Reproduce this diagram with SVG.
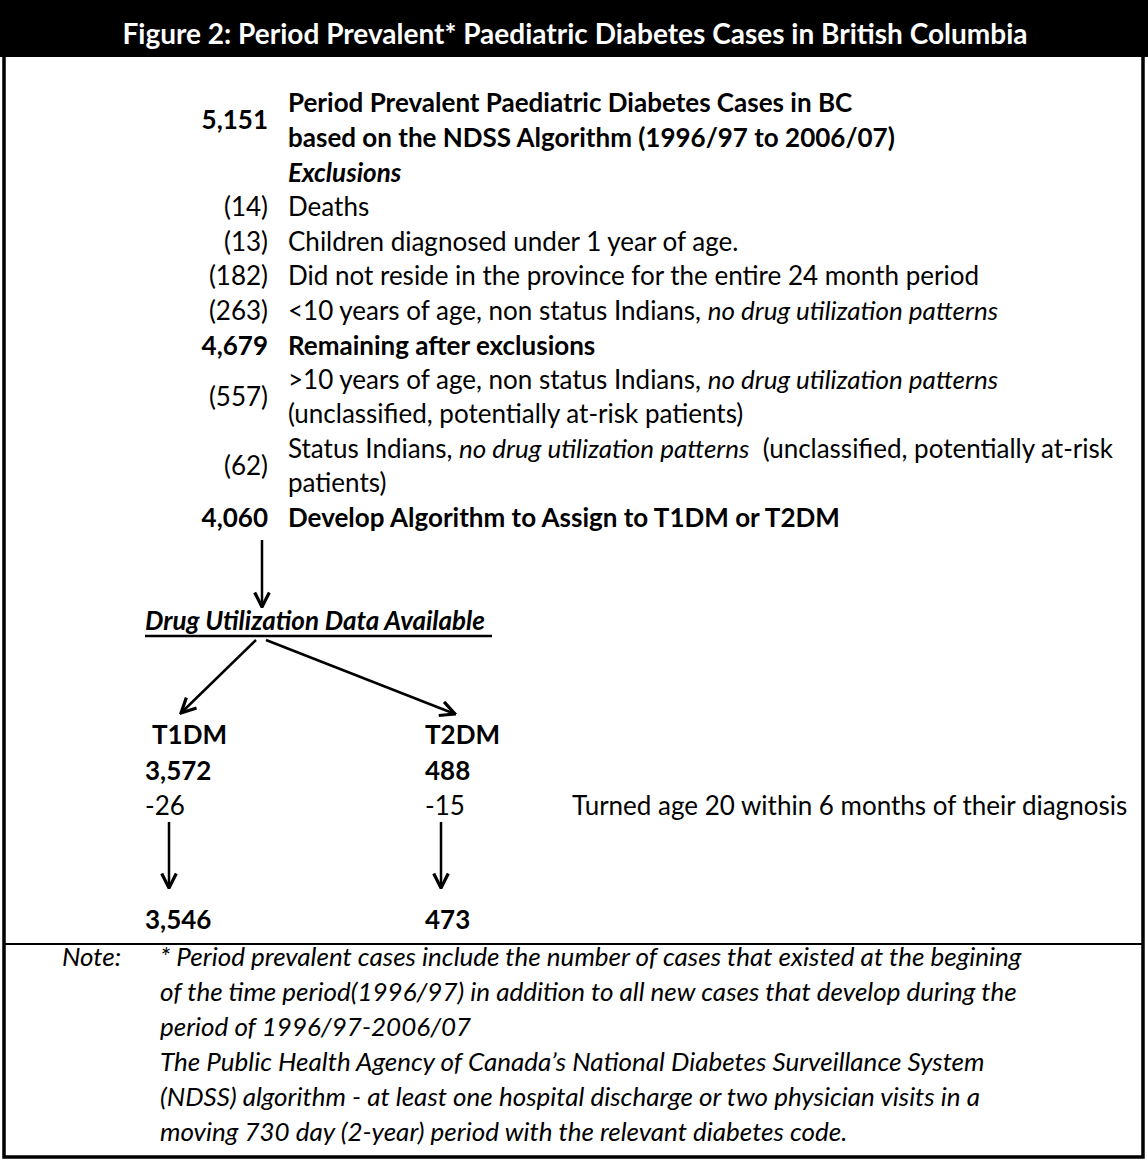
<svg xmlns="http://www.w3.org/2000/svg" width="1148" height="1160" viewBox="0 0 1148 1160">
<style>
text{font-family:Lato,"Liberation Sans",sans-serif;font-size:26px;fill:#000}
.b{font-weight:bold}
.i{font-style:italic}
.r{text-anchor:end}
.ttl{fill:#fff;font-weight:bold;font-size:28px;text-anchor:middle}
.ln{stroke:#000;stroke-width:2.5;fill:none}
</style>
<defs>
<marker id="ah" viewBox="0 0 12 12" refX="11" refY="6" markerWidth="7" markerHeight="7" orient="auto" markerUnits="strokeWidth">
<path d="M1,1 L11,6 L1,11" fill="none" stroke="#000" stroke-width="2.2"/>
</marker>
</defs>
<rect x="0" y="0" width="1148" height="1160" fill="#fff"/>
<rect x="4" y="2" width="1139" height="1155" fill="none" stroke="#000" stroke-width="3.5"/>
<g id="title">
<rect x="0" y="0" width="1148" height="57" fill="#000"/>
<text class="ttl" x="575" y="44" textLength="905" lengthAdjust="spacingAndGlyphs">Figure 2: Period Prevalent* Paediatric Diabetes Cases in British Columbia</text>
</g>
<g id="n5151">
<text class="b r" x="268" y="129">5,151</text>
<text class="b" x="288" y="112">Period Prevalent Paediatric Diabetes Cases in BC</text>
<text class="b" x="288" y="147">based on the NDSS Algorithm (1996/97 to 2006/07)</text>
<text class="b i" x="288" y="182">Exclusions</text>
</g>
<g id="ex14"><text class="r" x="268" y="216">(14)</text><text x="288" y="216">Deaths</text></g>
<g id="ex13"><text class="r" x="268" y="251">(13)</text><text x="288" y="251">Children diagnosed under 1 year of age.</text></g>
<g id="ex182"><text class="r" x="268" y="285">(182)</text><text x="288" y="285">Did not reside in the province for the entire 24 month period</text></g>
<g id="ex263"><text class="r" x="268" y="320">(263)</text><text x="288" y="320">&lt;10 years of age, non status Indians, <tspan class="i">no drug utilization patterns</tspan></text></g>
<g id="n4679"><text class="b r" x="268" y="355">4,679</text><text class="b" x="288" y="355">Remaining after exclusions</text></g>
<g id="ex557"><text class="r" x="268" y="406">(557)</text><text x="288" y="389">&gt;10 years of age, non status Indians, <tspan class="i">no drug utilization patterns</tspan></text><text x="288" y="423">(unclassified, potentially at-risk patients)</text></g>
<g id="ex62"><text class="r" x="268" y="475">(62)</text><text x="288" y="458">Status Indians, <tspan class="i">no drug utilization patterns</tspan>&#160; (unclassified, potentially at-risk</text><text x="288" y="492">patients)</text></g>
<g id="n4060"><text class="b r" x="268" y="527">4,060</text><text class="b" x="288" y="527">Develop Algorithm to Assign to T1DM or T2DM</text></g>
<g id="drug">
<text class="b i" x="145" y="630">Drug Utilization Data Available</text>
<line x1="145" y1="636" x2="492" y2="636" stroke="#000" stroke-width="2.5"/>
</g>
<g id="t1dm">
<text class="b" x="152" y="744">T1DM</text>
<text class="b" x="145" y="780">3,572</text>
<text x="145" y="815">-26</text>
<text class="b" x="145" y="929">3,546</text>
</g>
<g id="t2dm">
<text class="b" x="425" y="744">T2DM</text>
<text class="b" x="425" y="780">488</text>
<text x="425" y="815">-15</text>
<text class="b" x="425" y="929">473</text>
</g>
<g id="turned"><text x="572" y="815">Turned age 20 within 6 months of their diagnosis</text></g>
<g id="connectors">
<line class="ln" x1="262" y1="540" x2="262" y2="607" marker-end="url(#ah)"/>
<line class="ln" x1="256" y1="640" x2="181" y2="713" marker-end="url(#ah)"/>
<line class="ln" x1="266" y1="640" x2="455" y2="714" marker-end="url(#ah)"/>
<line class="ln" x1="169" y1="822" x2="169" y2="888" marker-end="url(#ah)"/>
<line class="ln" x1="441" y1="822" x2="441" y2="888" marker-end="url(#ah)"/>
</g>
<line x1="4" y1="944" x2="1144" y2="944" stroke="#000" stroke-width="2"/>
<g id="note">
<text class="i" x="62" y="966">Note:</text>
<text class="i" x="160" y="966">* Period prevalent cases include the number of cases that existed at the begining</text>
<text class="i" x="160" y="1001">of the time period(1996/97) in addition to all new cases that develop during the</text>
<text class="i" x="160" y="1036">period of 1996/97-2006/07</text>
<text class="i" x="160" y="1071">The Public Health Agency of Canada’s National Diabetes Surveillance System</text>
<text class="i" x="160" y="1106">(NDSS) algorithm - at least one hospital discharge or two physician visits in a</text>
<text class="i" x="160" y="1141">moving 730 day (2-year) period with the relevant diabetes code.</text>
</g>
</svg>
